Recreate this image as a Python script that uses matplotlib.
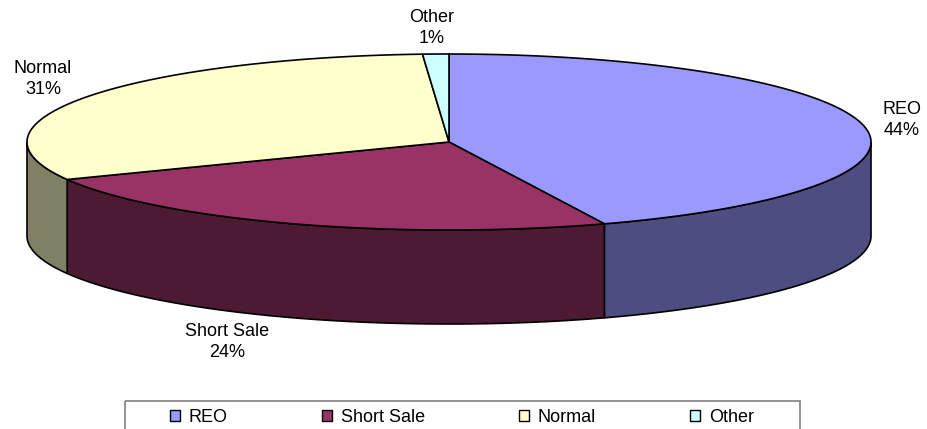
import numpy as np
import matplotlib.pyplot as plt
from matplotlib.patches import Polygon, Patch, Rectangle

plt.rcParams['font.family'] = ['Liberation Sans', 'DejaVu Sans']

labels = ["REO", "Short Sale", "Normal", "Other"]
shares = [44, 24, 31, 1]
top_colors = ["#9999FF", "#993366", "#FFFFCC", "#CCFFFF"]
side_colors = ["#4D4D80", "#4D1A33", "#808066", "#668080"]

# pixel layout of the 3d pie
cx, cy = 449, 142
rx, ry = 422, 88
depth = 94


def rim(t):
    # t in degrees, clockwise from 12 o'clock
    r = np.radians(t)
    return cx + rx * np.sin(r), cy - ry * np.cos(r)


fig = plt.figure(figsize=(9.27, 4.29), dpi=100)
ax = fig.add_axes([0, 0, 1, 1])
ax.set_xlim(0, 927)
ax.set_ylim(429, 0)
ax.axis('off')

fracs = np.array(shares) / sum(shares)
starts = np.concatenate([[0], np.cumsum(fracs)[:-1]]) * 360
ends = np.cumsum(fracs) * 360

# side walls (only the front half is visible)
for s, e, col in zip(starts, ends, side_colors):
    a, b = max(s, 90), min(e, 270)
    if a >= b:
        continue
    t = np.linspace(a, b, 100)
    x, y = rim(t)
    pts = np.column_stack([np.r_[x, x[::-1]], np.r_[y, y[::-1] + depth]])
    ax.add_patch(Polygon(pts, closed=True, facecolor=col, edgecolor='black', lw=1.2))

# top faces
for s, e, col in zip(starts, ends, top_colors):
    t = np.linspace(s, e, 200)
    x, y = rim(t)
    pts = np.column_stack([np.r_[cx, x], np.r_[cy, y]])
    ax.add_patch(Polygon(pts, closed=True, facecolor=col, edgecolor='black', lw=1.2))

# data labels
label_pos = [(902, 120), (227, 342), (43, 79), (432, 28)]
for lab, v, (lx, ly) in zip(labels, shares, label_pos):
    ax.text(lx, ly, f"{lab}\n{v}%", ha='center', va='center', fontsize=13,
            linespacing=1.25, color='black')

# legend box (bottom runs off the image)
ax.add_patch(Rectangle((125, 401), 675, 40, fill=False, edgecolor='#808080', lw=1.2))
handles = [Patch(facecolor=c, edgecolor='black', lw=1) for c in top_colors]
leg = ax.legend(handles, labels, ncol=4, loc='center left',
                bbox_to_anchor=(170 / 927, 1 - 417 / 429),
                bbox_transform=fig.transFigure, borderaxespad=0, borderpad=0,
                fontsize=13, handlelength=0.55, handleheight=0.55,
                handletextpad=0.5, columnspacing=5.2, frameon=False)

fig.savefig("out.png", dpi=100)
